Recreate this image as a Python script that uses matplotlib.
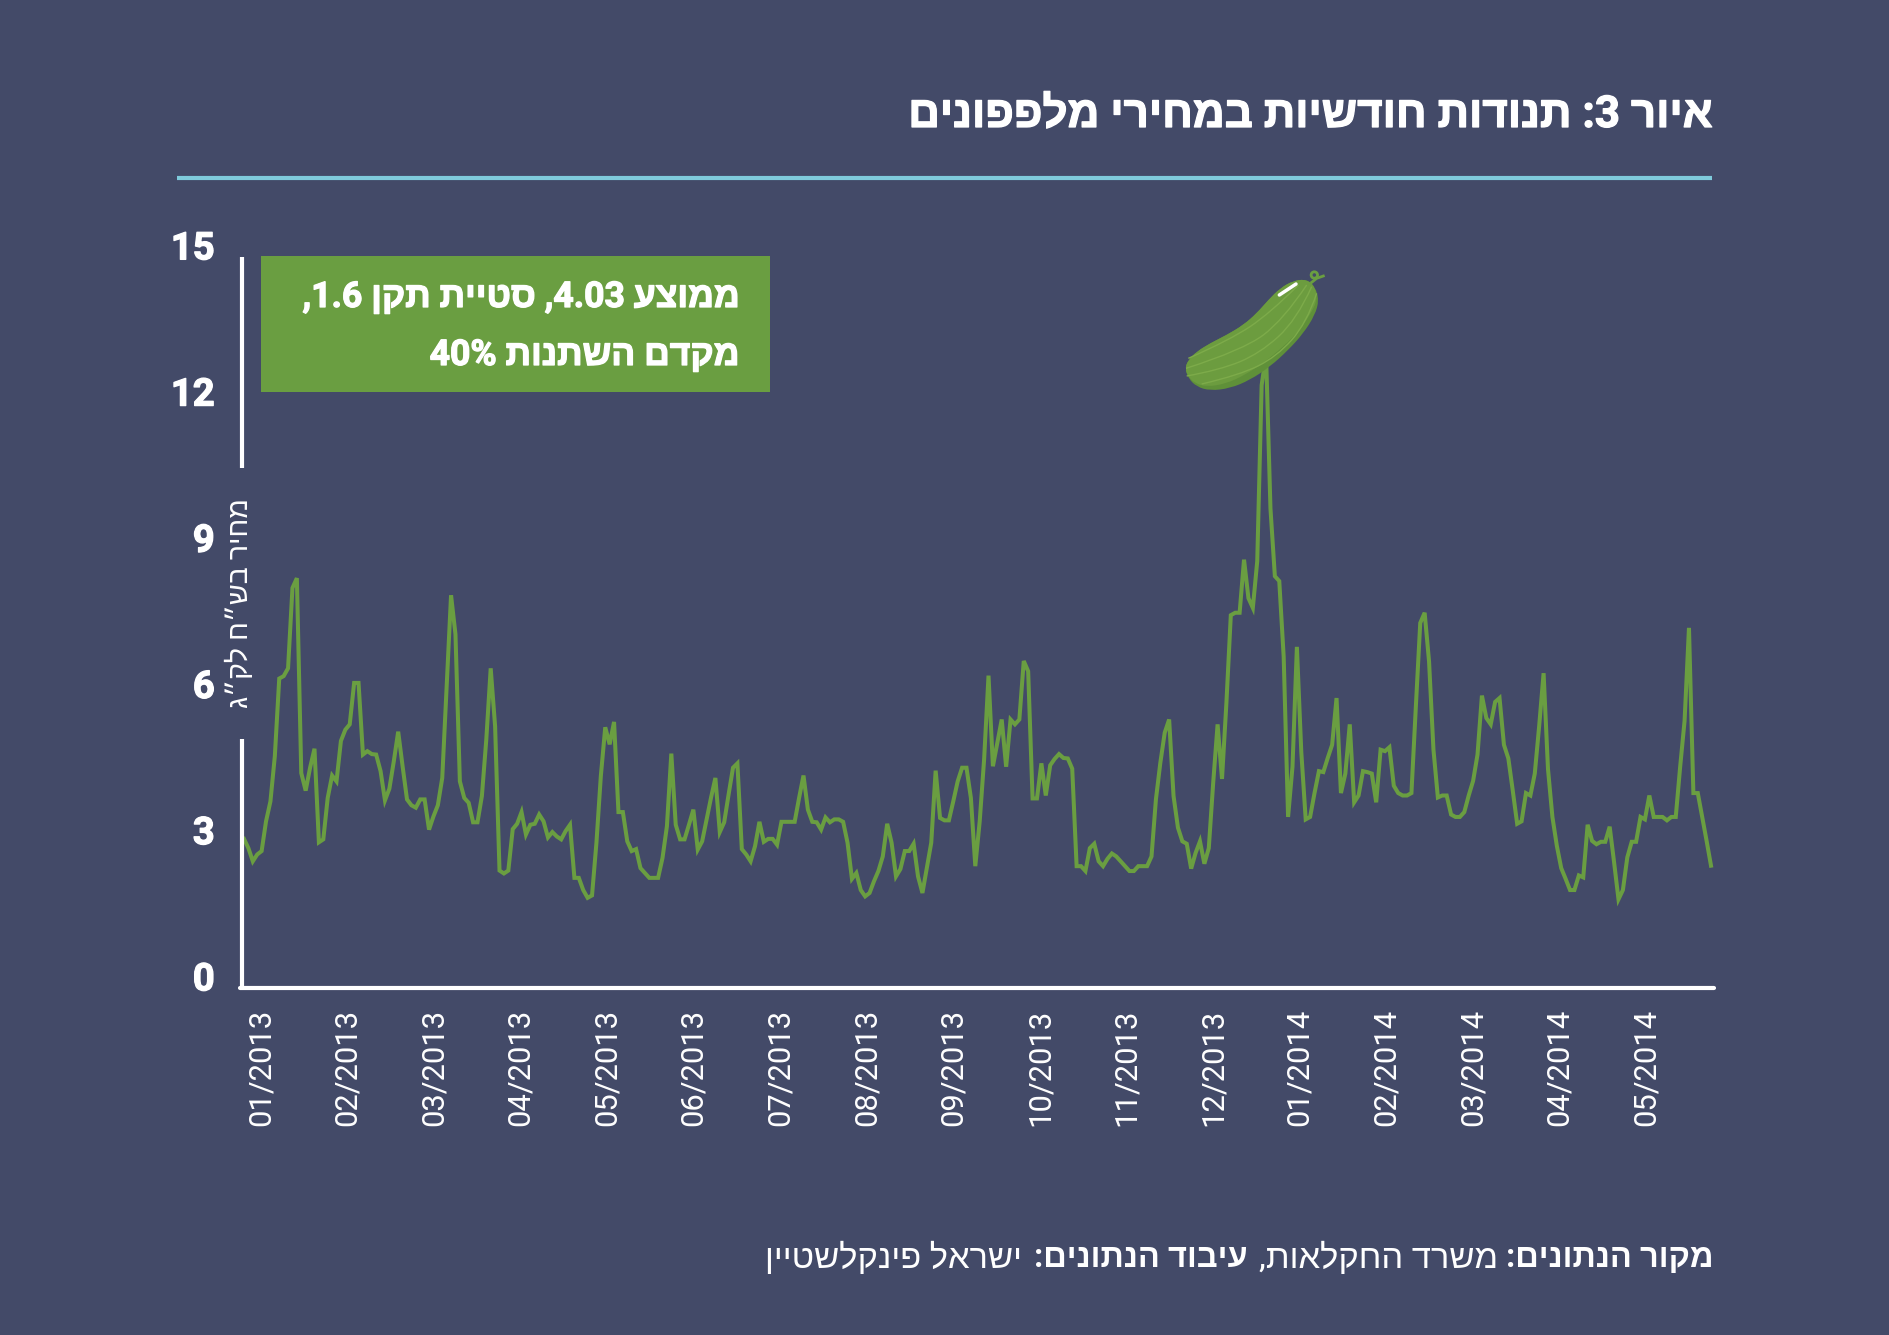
import re
import numpy as np
import matplotlib
matplotlib.use("Agg")
import matplotlib.pyplot as plt
import matplotlib.patheffects as pe
import matplotlib.transforms as mtrans
from matplotlib.path import Path
from matplotlib.patches import PathPatch, Circle, Rectangle

BG = "#434a68"
GREEN = "#6a9e41"
RULE = "#7fcbdc"

# prices
prices_a = [3.06, 2.87, 2.60, 2.74, 2.81, 3.42, 3.83, 4.76, 6.35, 6.40, 6.56, 8.21, 8.41, 4.41, 4.05, 4.52, 4.91,
            2.99, 3.05, 3.90, 4.36, 4.24, 5.07, 5.30, 5.41, 6.26, 6.26, 4.79, 4.86, 4.80, 4.79, 4.45, 3.85, 4.09,
            4.65, 5.26, 4.55, 3.87, 3.75, 3.70, 3.87, 3.87, 3.25, 3.52, 3.75, 4.31, 6.19, 8.06, 7.26, 4.24, 3.90,
            3.80, 3.40, 3.40, 3.94, 5.10, 6.56, 5.37, 2.41, 2.35, 2.41, 3.26, 3.37, 3.61, 3.15, 3.35, 3.37, 3.56,
            3.42, 3.09, 3.20, 3.11, 3.05, 3.22, 3.35, 2.26, 2.26, 2.01, 1.85, 1.90, 2.98, 4.35, 5.35, 5.00, 5.46,
            3.61, 3.61, 3.01, 2.81, 2.85, 2.46, 2.36, 2.26, 2.26, 2.26, 2.67, 3.32, 4.81, 3.35, 3.05, 3.05, 3.35,
            3.66, 2.84, 3.01, 3.46, 3.90, 4.31, 3.20, 3.40, 3.97, 4.52, 4.61]
prices_b = [2.85, 2.74, 2.60, 2.91, 3.41, 3.00, 3.06, 3.06, 2.94, 3.41, 3.41, 3.41, 3.41, 3.90, 4.36, 3.66, 3.41,
            3.40, 3.25, 3.50, 3.40, 3.46, 3.46, 3.41, 2.98, 2.24, 2.36, 2.01, 1.88, 1.95, 2.19, 2.40, 2.70, 3.37,
            2.98, 2.29, 2.44, 2.81, 2.81, 2.96, 2.29, 1.95, 2.46, 2.98, 4.46, 3.49, 3.44, 3.44, 3.83, 4.24, 4.52,
            4.52, 3.90, 2.50, 3.42, 4.69, 6.41, 4.55, 5.03, 5.51, 4.54, 5.51, 5.41, 5.51, 6.71, 6.50, 3.89, 3.89,
            4.61, 3.95, 4.57, 4.70, 4.80, 4.72, 4.71, 4.50, 2.50, 2.50, 2.40, 2.87, 2.96, 2.60, 2.50, 2.65, 2.76,
            2.70, 2.60, 2.50, 2.40, 2.40, 2.50, 2.50, 2.50, 2.70, 3.87, 4.62, 5.24, 5.51, 3.94, 3.29, 3.01, 2.96,
            2.45, 2.77, 3.01, 2.55, 2.87, 4.21, 5.41, 4.29, 5.85, 7.65, 7.70, 7.70]
prices_c = [8.79, 8.00, 7.80, 8.76, 12.37, 13.00, 9.84, 8.45, 8.35, 6.80, 3.51, 4.54, 7.00, 4.84, 3.46, 3.51, 4.00,
            4.45, 4.43, 4.72, 4.99, 5.95, 4.00, 4.40, 5.41, 3.81, 3.95, 4.45, 4.43, 4.40, 3.81, 4.89, 4.86, 4.94,
            4.15, 4.00, 3.95, 3.95, 4.00, 5.77, 7.49, 7.70, 6.70, 4.89, 3.91, 3.95, 3.95, 3.56, 3.51, 3.51, 3.61,
            3.95, 4.25, 4.79, 6.00, 5.54, 5.41, 5.87, 5.95, 4.99, 4.71, 4.05, 3.37, 3.42, 4.00, 3.95, 4.40, 5.38,
            6.46, 4.49, 3.51, 2.92, 2.46, 2.24, 2.01, 2.01, 2.31, 2.27, 3.35, 3.02, 2.95, 3.00, 3.00, 3.31, 2.58,
            1.82, 2.01, 2.68, 3.00, 3.00, 3.51, 3.46, 3.95, 3.51, 3.51, 3.51, 3.44, 3.51, 3.51, 4.54, 5.48, 7.39,
            4.00, 4.00, 3.51, 3.02, 2.51]
prices = prices_a + prices_b + prices_c

months = ["01/2013", "02/2013", "03/2013", "04/2013", "05/2013", "06/2013", "07/2013", "08/2013", "09/2013",
          "10/2013", "11/2013", "12/2013", "01/2014", "02/2014", "03/2014", "04/2014", "05/2014"]
points_per_month = 19.65
y_ticks = [0, 3, 6, 9, 12, 15]

title = "איור 3: תנודות חודשיות במחירי מלפפונים"
ylabel = "מחיר בש״ח לק״ג"
box_lines = ["ממוצע 4.03, סטיית תקן 1.6,", "מקדם השתנות 40%"]

HEB = ["Roboto", "Liberation Sans"]
HEAVY = [pe.withStroke(linewidth=0.9, foreground="white")]


# matplotlib has no bidi, so flip the string and put numbers back
def rtl(s):
    return re.sub(r"[0-9.%]*[0-9][0-9.%]*", lambda m: m.group(0)[::-1], s[::-1])


fig = plt.figure(figsize=(18.9, 13.35), dpi=100, facecolor=BG)

# chart
W, H = 1890, 1335
x0, x1, y_top, y_bot = 244, 1711, 257, 988
ax = fig.add_axes([x0 / W, 1 - y_bot / H, (x1 - x0) / W, (y_bot - y_top) / H])
ax.set_facecolor("none")
ax.plot(range(len(prices)), prices, color=GREEN, lw=2.9, solid_joinstyle="miter", clip_on=False)
ax.set_xlim(0, len(prices) - 1)
ax.set_ylim(0, 15)
for s in ax.spines.values():
    s.set_visible(False)
ax.set_xticks(np.arange(len(months)) * points_per_month)
ax.set_xticklabels(months, rotation=90, ha="left", va="top", family="Roboto", fontsize=22.3, color="white")
ax.set_yticks(y_ticks)
ax.set_yticklabels(y_ticks, va="baseline", family="Roboto", fontweight="bold", fontsize=27.5, color="white",
                   path_effects=HEAVY)
ax.tick_params(axis="x", length=0, pad=15)
ax.tick_params(axis="y", length=0, pad=21)
# labels sit a little off their ticks in the original
for lab in ax.get_xticklabels():
    lab.set_transform(lab.get_transform() + mtrans.Affine2D().translate(2.4, 0))
for lab in ax.get_yticklabels():
    lab.set_transform(lab.get_transform() + mtrans.Affine2D().translate(0, -2.4))

# everything else is placed in pixels on top of the chart
ov = fig.add_axes([0, 0, 1, 1], zorder=5)
ov.set_xlim(0, W)
ov.set_ylim(H, 0)
ov.axis("off")

ov.plot([177, 1712], [178, 178], color=RULE, lw=3, solid_capstyle="butt")
ov.text(1712, 115, rtl(title), ha="right", va="center", family=HEB, fontweight="bold", fontsize=31.6, color="white",
        path_effects=HEAVY)

ov.plot([242, 242], [257, 468], color="white", lw=3, solid_capstyle="butt")
ov.plot([242, 242], [739, 988], color="white", lw=3, solid_capstyle="butt")
ov.plot([240, 1714], [988, 988], color="white", lw=3, solid_capstyle="round")
ov.text(240, 603, rtl(ylabel), rotation=90, ha="center", va="center", family=HEB, fontsize=20.5, color="white")

ov.add_patch(Rectangle((261, 256), 509, 136, facecolor=GREEN, edgecolor="none"))
for line, yy in zip(box_lines, [297, 355]):
    ov.text(739, yy, rtl(line), ha="right", va="center", family=HEB, fontweight="bold", fontsize=25.6, color="white",
            path_effects=HEAVY)

# footer is mixed bold and light, each piece right-aligned by hand
footer = [("מקור הנתונים:", "bold", 23.5, 1714), ("משרד החקלאות,", "normal", 24.8, 1498),
          ("עיבוד הנתונים:", "bold", 23.5, 1248), ("ישראל פינקלשטיין", "normal", 24.8, 1022)]
for txt, weight, size, xr in footer:
    ov.text(xr, 1258, rtl(txt), ha="right", va="center", family=HEB, fontweight=weight, fontsize=size, color="white")


# cucumber in pixels
def cuke(zx, zy):
    return 1160 + zx / 3, 250 + zy / 3


def smooth_closed(pts):
    pts = [np.array(cuke(*p)) for p in pts]
    n = len(pts)
    verts = [(pts[-1] + pts[0]) / 2]
    codes = [Path.MOVETO]
    for i in range(n):
        verts += [pts[i], (pts[i] + pts[(i + 1) % n]) / 2]
        codes += [Path.CURVE3, Path.CURVE3]
    return Path(verts, codes)


def smooth_open(pts):
    pts = [np.array(cuke(*p)) for p in pts]
    verts = [pts[0]]
    codes = [Path.MOVETO]
    for i in range(1, len(pts) - 1):
        verts += [pts[i], (pts[i] + pts[i + 1]) / 2 if i < len(pts) - 2 else pts[i + 1]]
        codes += [Path.CURVE3, Path.CURVE3]
    return Path(verts, codes)


outline = [(75, 355), (85, 330), (110, 305), (150, 280), (200, 255), (250, 225), (290, 190), (325, 150), (360, 115),
           (400, 92), (440, 88), (465, 110), (477, 150), (465, 195), (430, 250), (385, 300), (330, 350), (270, 390),
           (210, 415), (150, 422), (110, 410), (85, 385)]
body = PathPatch(smooth_closed(outline), facecolor="#5f9039", edgecolor="none")
ov.add_patch(body)
upper = [(75, 355), (85, 330), (110, 305), (150, 280), (200, 255), (250, 225), (290, 190), (325, 150), (360, 115),
         (400, 92), (440, 88), (465, 110), (472, 150), (450, 195), (415, 245), (370, 290), (315, 335), (255, 375),
         (195, 402), (140, 410), (105, 400), (85, 380)]
ov.add_patch(PathPatch(smooth_closed(upper), facecolor="#6c9c3f", edgecolor="none"))
ribs = [[(415, 105), (330, 190), (210, 270), (85, 325)],
        [(440, 105), (370, 210), (250, 300), (78, 355)],
        [(455, 110), (410, 210), (300, 310), (180, 360), (80, 378)],
        [(470, 130), (440, 220), (350, 320), (240, 375), (125, 402)]]
for r in ribs:
    ov.add_patch(PathPatch(smooth_open(r), facecolor="none", edgecolor="#7dab4a", lw=1.0))
hx, hy = zip(cuke(358, 135), cuke(408, 102))
ov.plot(hx, hy, color="white", lw=2.5, solid_capstyle="round")
ov.add_patch(Circle(cuke(463, 75), 3.2, facecolor="none", edgecolor=GREEN, lw=2))
sx, sy = zip(cuke(455, 97), cuke(470, 85), cuke(490, 78))
ov.plot(sx, sy, color=GREEN, lw=2)

fig.savefig("out.png", dpi=100, facecolor=BG)
